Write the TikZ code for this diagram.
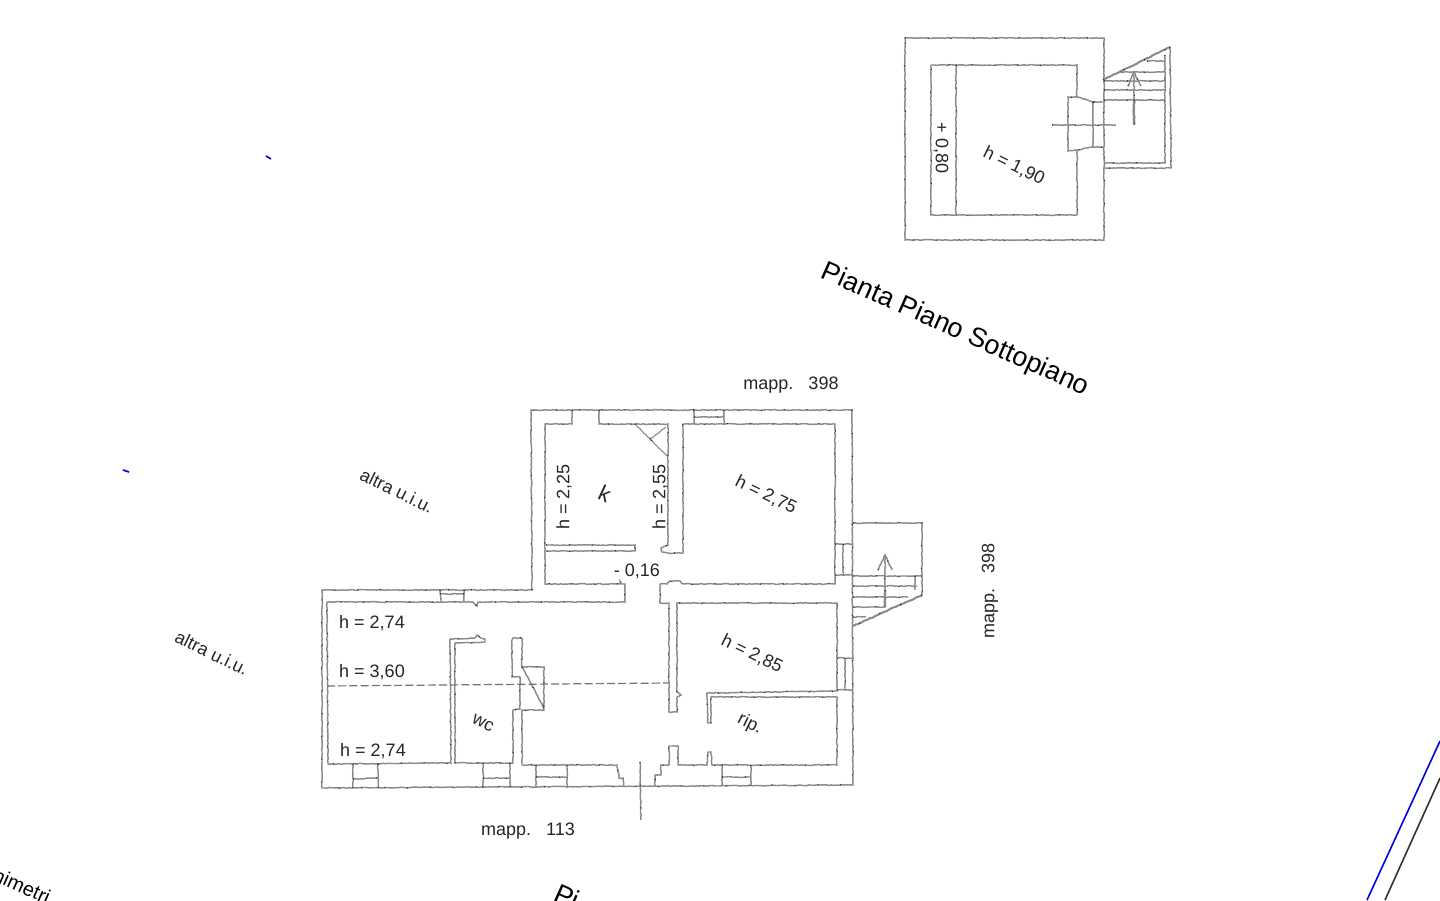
\documentclass[tikz,border=0pt]{standalone}
\usepackage{fontspec}
\setmainfont{Liberation Sans}
\usetikzlibrary{decorations.pathmorphing}
\tikzset{
  wall/.style={draw=black!46,line width=.72pt,decorate,decoration={random steps,segment length=1.1pt,amplitude=.2pt},
    postaction={draw=black!85,line width=.55pt,dash pattern=on .5pt off 11pt}},
  thin wall/.style={wall,line width=.55pt},
  dash wall/.style={draw=black!55,line width=.6pt,dash pattern=on 4pt off 1.6pt},
  lab/.style={inner sep=0pt,text=black!85,font=\fontsize{9}{10}\selectfont},
  small lab/.style={lab,font=\fontsize{9}{10}\selectfont},
  title lab/.style={inner sep=0pt,text=black,font=\fontsize{13.5}{15}\selectfont},
  bluetick/.style={draw=blue!90!black,line width=.8pt},
}
\begin{document}
\begin{tikzpicture}[x=.5pt,y=-.5pt]
\useasboundingbox (0,0) rectangle (1440,900);
\clip (0,0) rectangle (1440,900);
\fill[white] (0,0) rectangle (1440,900);

% ---------- basement plan
\draw[wall] (905,38) -- (1104,38) -- (1104,240) -- (905,240) -- cycle;
\draw[wall] (1077,97) -- (1077,65) -- (931,65) -- (931,215) -- (1077,215) -- (1077,150);
\draw[wall] (956,65) -- (956,215);
\draw[wall] (1094,102) -- (1077,97) -- (1068,97) -- (1068,151) -- (1077,150) -- (1093,147) -- (1104,147);
\draw[wall] (1094,102) -- (1104,102);
\draw[wall] (1093,102) -- (1093,147);
\draw[wall] (1052,125) -- (1116,125);
% stair
\draw[wall,line width=1pt] (1103,80) -- (1170,47);
\draw[wall] (1170,47) -- (1171,168) -- (1104,168);
\draw[wall] (1165,55) -- (1165,163) -- (1104,163);
\draw[wall] (1147,61) -- (1165,61);
\draw[wall] (1121,72) -- (1165,72);
\draw[wall] (1104,81) -- (1165,81);
\draw[wall] (1104,90) -- (1165,90);
\draw[wall] (1104,100) -- (1165,100);
\draw[wall] (1134,72) -- (1134,125);
\draw[wall,line width=1.2pt] (1134,100) -- (1134,125);
\draw[wall] (1128,86) -- (1134,72) -- (1141,86);

% ---------- main plan, outer walls
\draw[wall] (532,590) -- (531,410) -- (852,410) -- (853,785) -- (322,788) -- (322,590) -- cycle;
% kitchen and upper room
\draw[wall] (572,410) -- (572,424) -- (545,424) -- (545,584) -- (620,584) -- (620,581) -- (622,584) -- (625,584) -- (625,602) -- (478,602) -- (477,606) -- (473,602) -- (327,602) -- (328,764) -- (451,763) -- (450,639) -- (475,638) -- (477,635) -- (481,638) -- (485,639) -- (485,642) -- (455,643) -- (455,763) -- (513,763) -- (513,710) -- (520,709) -- (520,677) -- (512,677) -- (512,640) -- (513,638) -- (522,638) -- (522,667) -- (544,667) -- (544,710) -- (522,710) -- (522,765) -- (617,765) -- (619,778) -- (623,778) -- (624,786);
\draw[wall] (522,667) -- (544,708);
\draw[wall] (599,410) -- (599,424) -- (668,424) -- (668,545) -- (661,548) -- (662,552) -- (668,553) -- (683,553) -- (683,424) -- (835,424) -- (835,584) -- (683,584) -- (680,581) -- (670,581) -- (667,584) -- (660,584) -- (660,603) -- (669,603) -- (669,712) -- (677,712) -- (677,697) -- (681,695) -- (677,692) -- (677,603) -- (837,603) -- (837,691) -- (707,693) -- (707,697) -- (708,723) -- (711,723) -- (711,697) -- (837,697) -- (837,765) -- (712,765) -- (711,752) -- (708,752) -- (707,765) -- (678,765) -- (678,746) -- (669,746) -- (669,765) -- (661,765) -- (661,775) -- (655,775) -- (655,785);
\draw[wall] (546,545) -- (635,545) -- (635,551) -- (546,551);
% door line
\draw[wall] (640,762) -- (641,820);
% closet under stairs
\draw[thin wall] (635,424) -- (667,456);
\draw[thin wall] (650,439) -- (666,427);
% dashed line
\draw[dash wall] (327,686) -- (669,683);
% windows
\draw[wall] (694,410) -- (694,424);
\draw[wall] (724,410) -- (724,424);
\draw[wall] (694,417) -- (724,417);
\draw[wall] (440,590) -- (441,602);
\draw[wall] (464,590) -- (464,602);
\draw[wall] (440,594) -- (464,594);
\draw[wall] (353,764) -- (353,788);
\draw[wall] (378,764) -- (378,788);
\draw[wall] (353,779) -- (378,778);
\draw[wall] (483,763) -- (483,787);
\draw[wall] (510,763) -- (510,787);
\draw[wall] (483,778) -- (510,778);
\draw[wall] (536,765) -- (536,787);
\draw[wall] (567,765) -- (567,787);
\draw[wall] (536,777) -- (567,777);
\draw[wall] (722,765) -- (722,785);
\draw[wall] (751,765) -- (751,785);
\draw[wall] (722,777) -- (751,777);
\draw[wall] (835,544) -- (852,544);
\draw[wall] (843,544) -- (843,575);
\draw[wall] (835,575) -- (852,575);
\draw[wall] (837,658) -- (853,658);
\draw[wall] (845,658) -- (845,690);
\draw[wall] (837,690) -- (853,690);
% lower stair
\draw[wall] (853,523) -- (922,523) -- (922,595);
\draw[wall,line width=1pt] (922,595) -- (853,626);
\draw[wall] (853,576) -- (922,576);
\draw[wall] (853,586) -- (917,586);
\draw[wall] (853,597) -- (908,597);
\draw[wall] (853,607) -- (886,607);
\draw[wall] (853,617) -- (866,617);
\draw[wall] (915,576) -- (915,590);
\draw[wall] (885,555) -- (885,607);
\draw[wall,line width=1.15pt] (885,590) -- (885,607);
\draw[wall] (878,570) -- (885,555) -- (892,570);

% ---------- labels
\node[lab,rotate=-90] (pz) at (941,148) {+ 0,80};
\node[lab,rotate=-26] (h190) at (1014,166) {h = 1,90};
\node[title lab,rotate=-24] (titleA) at (955,330) {Pianta Piano Sottopiano};
\node[small lab] (m398a) at (791,385) {mapp.\ \ \ 398};
\node[small lab,rotate=90] (m398b) at (990,591) {mapp.\ \ \ 398};
\node[small lab] (m113) at (528,831) {mapp.\ \ \ 113};
\node[small lab,rotate=-26] (au1) at (397,491) {altra u.i.u.};
\node[small lab,rotate=-26] (au2) at (212,653) {altra u.i.u.};
\node[lab,rotate=90] (h225) at (564,497) {h = 2,25};
\node[lab,rotate=-25,font=\fontsize{11}{12}\selectfont] (kk) at (605,494) {k};
\node[lab,rotate=90] (h255) at (660,497) {h = 2,55};
\node[lab,rotate=-26] (h275) at (766,495) {h = 2,75};
\node[lab] (m016) at (637,571) {- 0,16};
\node[lab] (h274a) at (372,623) {h = 2,74};
\node[lab] (h360) at (372,672) {h = 3,60};
\node[lab] (h274b) at (373,751) {h = 2,74};
\node[lab,rotate=-26] (h285) at (752,654) {h = 2,85};
\node[lab,rotate=-26] (wc) at (483,723) {wc};
\node[lab,rotate=-26] (rip) at (750,724) {rip.};
\node[title lab,rotate=-24,font=\fontsize{10}{12}\selectfont] (crop1) at (22,886) {nimetri};
\node[title lab,rotate=-24,anchor=west] (crop2) at (556,891) {Pi};

% ---------- coloured lines
\draw[bluetick] (266,156) -- (271,159);
\draw[bluetick] (123,470) -- (129,472);
\coordinate (bl1) at (1440,741);
\coordinate (bl2) at (1367,900);
\coordinate (kl1) at (1440,778);
\coordinate (kl2) at (1385,900);
\draw[draw=blue!90!black,line width=.8pt] (bl1) -- (bl2);
\draw[draw=black!80,line width=.8pt] (kl1) -- (kl2);
\end{tikzpicture}
\end{document}
